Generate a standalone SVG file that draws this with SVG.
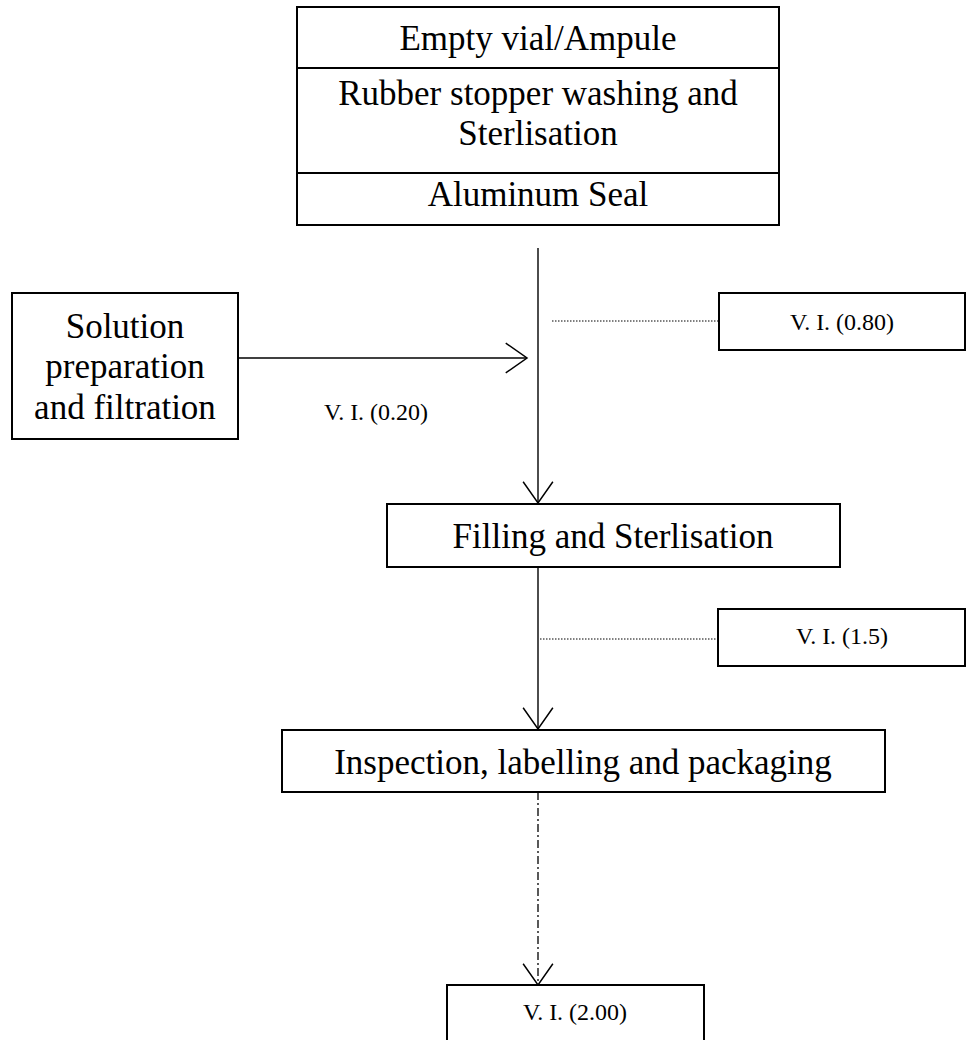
<svg xmlns="http://www.w3.org/2000/svg" width="966" height="1040" viewBox="0 0 966 1040">
  <style>
    .box { fill: #ffffff; stroke: #000000; stroke-width: 2; }
    .sep { stroke: #000000; stroke-width: 2; }
    .big { font-family: "Liberation Serif", "Times New Roman", serif; font-size: 35px; fill: #000000; text-anchor: middle; }
    .small { font-family: "Liberation Serif", "Times New Roman", serif; font-size: 24px; fill: #000000; text-anchor: middle; }
    .flow { stroke: #000000; stroke-width: 1.4; fill: none; }
    .dotted { stroke: #000000; stroke-width: 1; fill: none; stroke-dasharray: 1.5 1.5; }
    .dashdot { stroke: #000000; stroke-width: 1.3; fill: none; stroke-dasharray: 8 3 2 3; }
  </style>
  <defs>
    <marker id="open-arrow" markerUnits="userSpaceOnUse" markerWidth="30" markerHeight="34" viewBox="-22 -16 24 32" refX="0" refY="0" orient="auto">
      <path d="M-20,-14 L0,0 L-20,14" fill="none" stroke="#000000" stroke-width="1.4"/>
    </marker>
  </defs>

  <rect width="966" height="1040" fill="#ffffff"/>

  <!-- connectors -->
  <g id="connectors">
    <line class="flow" x1="538" y1="248" x2="538" y2="503" marker-end="url(#open-arrow)"/>
    <line class="flow" x1="226" y1="358" x2="527" y2="358" marker-end="url(#open-arrow)"/>
    <line class="dotted" x1="552" y1="321" x2="719" y2="321"/>
    <line class="flow" x1="538" y1="567" x2="538" y2="729" marker-end="url(#open-arrow)"/>
    <line class="dotted" x1="540" y1="639" x2="718" y2="639"/>
    <line class="dashdot" x1="538" y1="792" x2="538" y2="985" marker-end="url(#open-arrow)"/>
  </g>

  <!-- stacked packaging components -->
  <g id="components">
    <rect class="box" x="297" y="7" width="482" height="218"/>
    <line class="sep" x1="297" y1="68" x2="779" y2="68"/>
    <line class="sep" x1="297" y1="173" x2="779" y2="173"/>
    <text class="big" x="538" y="50">Empty vial/Ampule</text>
    <text class="big" x="538" y="105">Rubber stopper washing and</text>
    <text class="big" x="538" y="145">Sterlisation</text>
    <text class="big" x="538" y="206">Aluminum Seal</text>
  </g>

  <g id="solution">
    <rect class="box" x="12" y="293" width="226" height="146"/>
    <text class="big" x="125" y="338">Solution</text>
    <text class="big" x="125" y="378">preparation</text>
    <text class="big" x="125" y="419">and filtration</text>
  </g>

  <g id="vi-020">
    <text class="small" x="376" y="420">V. I. (0.20)</text>
  </g>

  <g id="vi-080">
    <rect class="box" x="719" y="293" width="246" height="57"/>
    <text class="small" x="842" y="330">V. I. (0.80)</text>
  </g>

  <g id="filling">
    <rect class="box" x="387" y="504" width="453" height="63"/>
    <text class="big" x="613" y="548">Filling and Sterlisation</text>
  </g>

  <g id="vi-15">
    <rect class="box" x="718" y="609" width="247" height="57"/>
    <text class="small" x="842" y="644">V. I. (1.5)</text>
  </g>

  <g id="inspection">
    <rect class="box" x="282" y="730" width="603" height="62"/>
    <text class="big" x="583" y="774">Inspection, labelling and packaging</text>
  </g>

  <g id="vi-200">
    <rect class="box" x="447" y="985" width="257" height="62"/>
    <text class="small" x="575" y="1020">V. I. (2.00)</text>
  </g>
</svg>
